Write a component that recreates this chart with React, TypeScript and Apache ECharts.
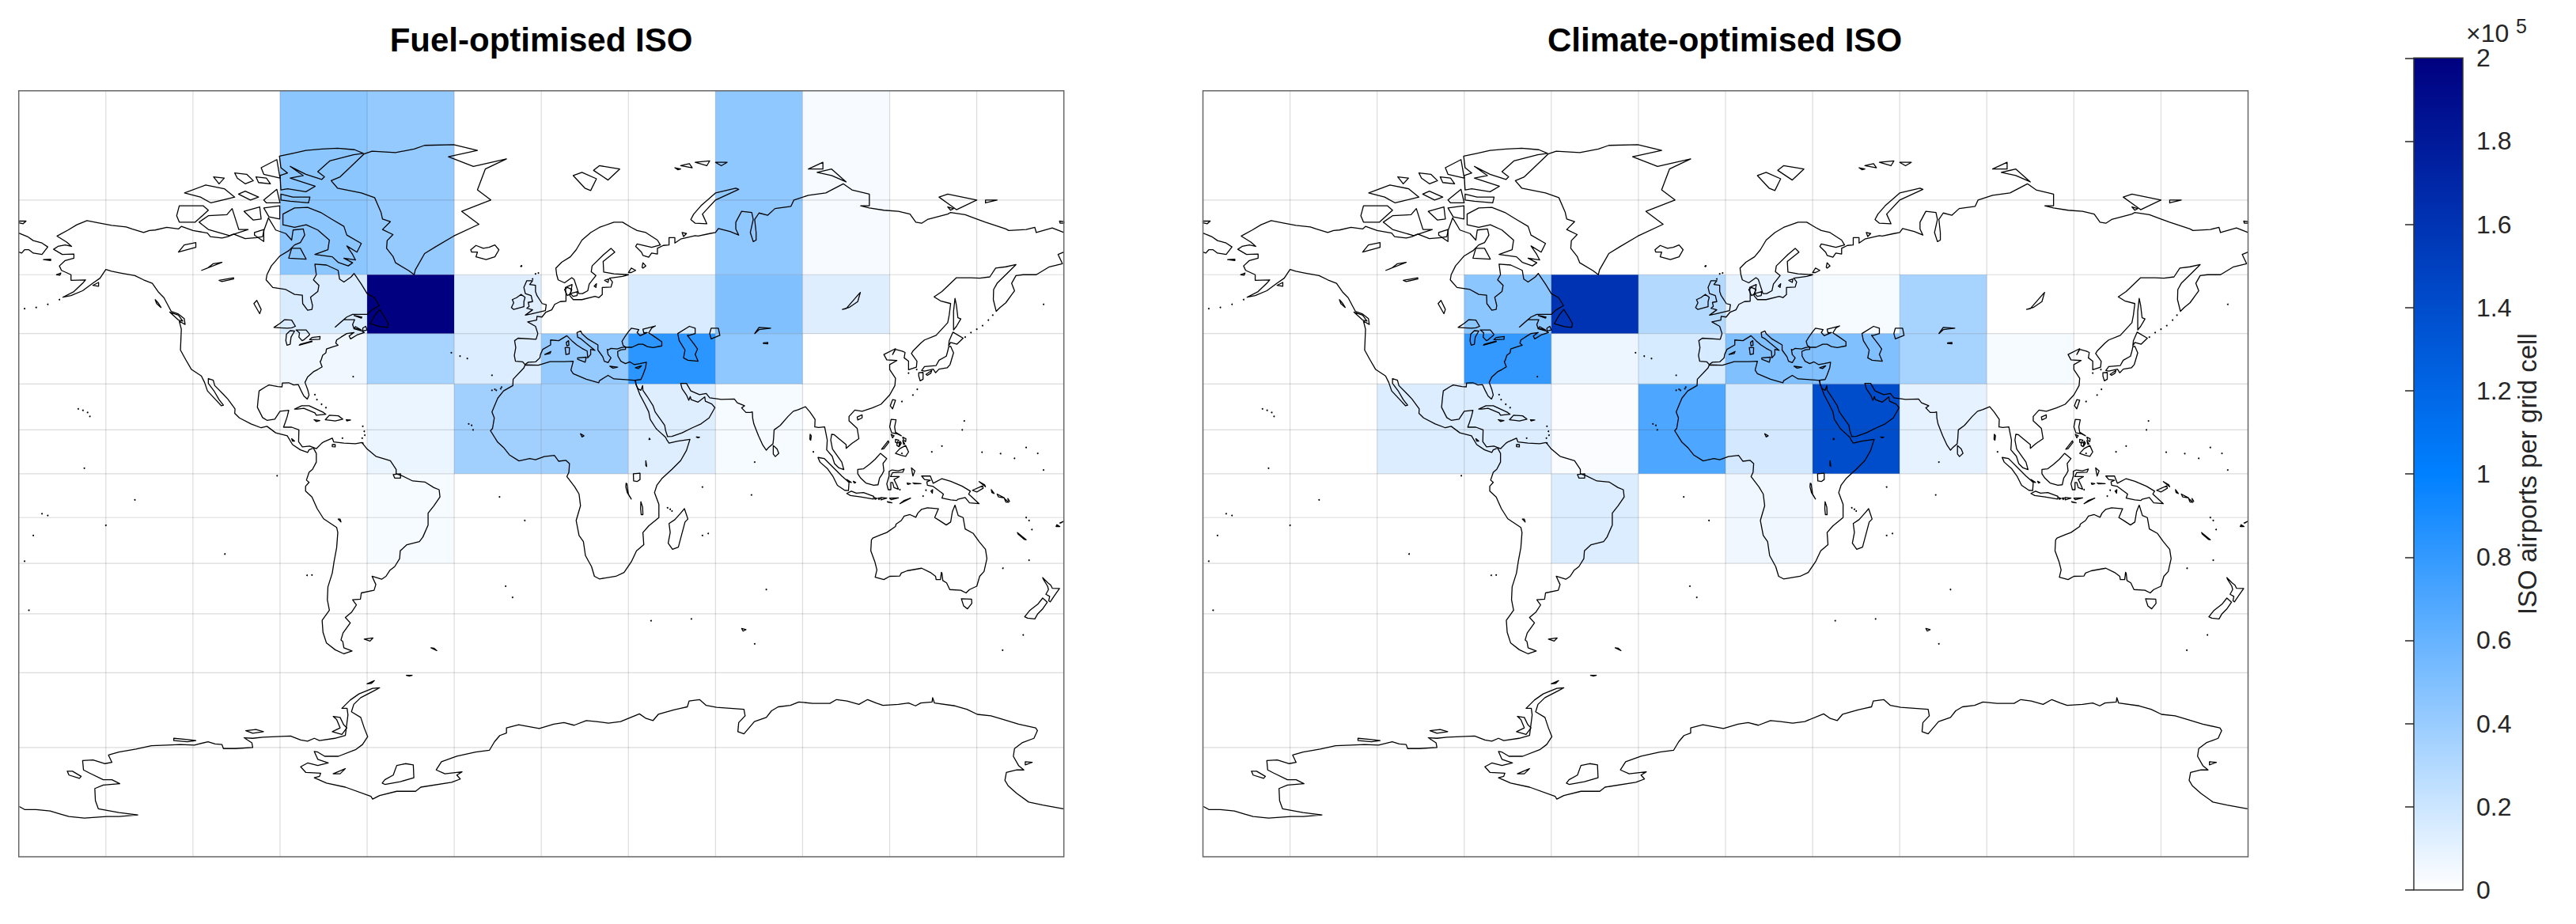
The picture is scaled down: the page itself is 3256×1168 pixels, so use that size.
import React, { useEffect, useRef } from "react";
import * as echarts from "echarts";

const FONT = '"Liberation Sans", Arial, sans-serif';
const LON_TICKS = [-180, -150, -120, -90, -60, -30, 0, 30, 60, 90, 120, 150, 180];
const LAT_TICKS = [-90, -75, -60, -45, -30, -15, 0, 15, 30, 45, 60, 75, 90];
const CELL_LAT_EDGES = [90, 60, 45, 30, 0, -30];
const COLORBAR_TICKS = [0, 0.2, 0.4, 0.6, 0.8, 1, 1.2, 1.4, 1.6, 1.8, 2];

// ISO airports per grid cell (x 10^5), one entry per 30-degree longitude column
const FUEL_60N_90N = [0, 0, 0, 0.45, 0.415, 0, 0, 0, 0.44, 0.03, 0, 0];
const FUEL_45N_60N = [0, 0, 0, 0.15, 2.0, 0.13, 0, 0.15, 0.5, 0.13, 0, 0];
const FUEL_30N_45N = [0, 0, 0, 0.06, 0.35, 0.14, 0.42, 0.83, 0.44, 0, 0, 0];
const FUEL_00N_30N = [0, 0, 0, 0, 0.08, 0.37, 0.37, 0.13, 0.035, 0, 0, 0];
const FUEL_30S_00S = [0, 0, 0, 0, 0.035, 0, 0, 0, 0, 0, 0, 0];
const FUEL = [FUEL_60N_90N, FUEL_45N_60N, FUEL_30N_45N, FUEL_00N_30N, FUEL_30S_00S];

const CLIMATE_60N_90N = [0, 0, 0, 0, 0, 0, 0, 0, 0, 0, 0, 0];
const CLIMATE_45N_60N = [0, 0, 0, 0.45, 1.6, 0.3, 0.1, 0.035, 0.35, 0, 0, 0];
const CLIMATE_30N_45N = [0, 0, 0, 0.8, 0.07, 0.16, 0.5, 0.5, 0.35, 0.035, 0, 0];
const CLIMATE_00N_30N = [0, 0, 0.14, 0.14, 0.02, 0.7, 0.17, 1.4, 0.1, 0, 0, 0];
const CLIMATE_30S_00S = [0, 0, 0, 0, 0.14, 0, 0.06, 0, 0, 0, 0, 0];
const CLIMATE = [CLIMATE_60N_90N, CLIMATE_45N_60N, CLIMATE_30N_45N, CLIMATE_00N_30N, CLIMATE_30S_00S];

// Coastlines: flat lon,lat lists
const OPEN_COAST: number[][] = [
  // Antarctica mainland
  [-179.8,-84,-178,-84.4,-174,-84.4,-169.2,-84.6,-165.6,-85,-162.7,-85.3,-157.4,-85.5,-149.7,-85.3,-145.5,-85.3,-139,-85.1,-145.5,-84.8,-152.6,-84.3,-153.6,-83.2,-153.8,-81.5,-150.9,-81,-145.2,-80.8,-147.9,-80.2,-150.9,-80.2,-155.6,-79.2,-157.7,-78.7,-158,-77.2,-154.4,-77.1,-150.3,-77.7,-147.9,-77.5,-149.1,-76.3,-145.5,-75.8,-139.6,-75.3,-134.3,-74.7,-129,-74.6,-124.3,-74.5,-119.5,-74.6,-114.8,-74,-112.4,-74.4,-110,-74.5,-109.5,-75.2,-105.4,-75.2,-99.4,-75,-99.7,-74.2,-102.4,-73.3,-99.4,-73.4,-95.9,-73.2,-91.2,-73.1,-86.4,-73,-82.9,-73.7,-80.5,-73.9,-78.2,-73.4,-76.4,-73.8,-71.1,-73.4,-67.5,-72.9,-66.6,-69,-66.9,-67.7,-68.7,-67.7,-65.8,-66,-62.8,-64.7,-58.1,-63.5,-55.7,-63.4,-58.1,-64.2,-62.2,-65.5,-64.6,-66.9,-65.4,-68.4,-62.2,-69.5,-61,-71.5,-59.8,-73.1,-61.6,-74.5,-64,-75.4,-69.9,-76.5,-74.6,-76.5,-77,-75.8,-78.2,-75.7,-77,-77,-73.4,-77.6,-77,-78,-80.5,-77.6,-82.9,-78.2,-81.1,-79.1,-76,-79.2,-76.4,-79.7,-78.2,-79.9,-74,-80.7,-67.5,-81.3,-58.7,-82.6,-58.1,-83,-55.7,-82.5,-49.8,-81.9,-43.3,-81.9,-41.5,-81.3,-30.9,-80.6,-27.9,-80.1,-29.1,-79.5,-27.3,-79,-33.2,-79.3,-36.2,-78.7,-34.4,-77.4,-29.1,-76.5,-22.6,-75.8,-17.9,-75.5,-16.1,-74,-14.3,-72.9,-12,-72.45,-12,-71.5,-7.8,-70.9,-3.7,-71.3,-0.7,-71.6,4.3,-70.8,7.8,-70.5,11.3,-71,15.5,-70.1,19,-70.3,23.1,-70.6,27.3,-70.3,33.8,-68.8,36.1,-69.7,38.5,-70.1,40.3,-68.9,45.6,-68,48,-67.7,50.3,-67.4,50.9,-66.2,54.5,-65.9,56.8,-67.1,60.4,-67.5,69.8,-67.9,70.2,-69.2,68,-70.5,67.7,-72.2,69.8,-72.6,73.4,-70.3,77.5,-69.5,79.3,-68.2,81.6,-67.4,85.8,-67.1,88.7,-66.4,93.5,-66.7,99.4,-66.7,101.7,-65.9,105.3,-66.2,109.4,-66.9,112.4,-65.9,115.3,-66.6,117.7,-67.1,123,-66.9,126.5,-66.6,128.9,-67.2,130.7,-66.6,134.6,-66.4,134.8,-65.5,135.4,-66.6,142.5,-67.2,146.6,-67.9,150.2,-68.9,154.9,-69.2,159.7,-70,164.4,-70.8,170.3,-71.5,170.9,-72,169.7,-73.4,165.6,-74.2,163,-75.2,162.6,-76.5,164.4,-78,166.2,-78.7,163.8,-78.7,160.2,-79.1,159.7,-80.3,160.8,-81.1,163.8,-82.2,167.9,-83.4,172.7,-83.8,179.8,-84.3],
  // Chukotka east of the date line
  [-180,68.9,-177,68.2,-175,67.4,-172,66.9,-170,66.1,-172,64.5,-175,64.8,-176.5,65.5,-178,65.5,-179,64.8,-180,65],
  // Eurasia from Norway over Siberia, round Asia and Europe
  [180,69,176,69.9,170.5,69,170,70,167,69.6,161,69.4,160,69.7,153,71,150,71.6,146,72.4,141,72.8,140,72.5,133,71.5,131,70.8,129,71,127,72.5,123,73,118,73.2,113,73.6,110,74,113,74,113,76,107,76.7,104,77.7,98,76.2,92,75.8,87,75,86,73.9,80.5,73.5,78,72.3,75,72.7,73.5,71.5,74,69,74,67.5,73,67.2,72,69,73,71.5,72.5,72.8,69,73,67,71,67,69.7,68,68.5,65,69.2,61,69.8,60,69,58,68.8,54,68.3,53,68.4,48,67.7,46,66.9,46,68,44,68,44,66.5,42,66.4,40,65.8,40,64.6,38,64.8,37,63.9,35,64.3,34.5,65,32.5,66.2,33,66.7,38,66,41,66.5,40,67.5,36,69,33,69.4,31,70,28,71,25,71,20,70,17,69,14,67.5,12,65.5,10,64,7,62.8,5,61.5,5.3,60,5.8,58.8,8,58.1,10.5,59.3,11.3,58.9,12.9,55.5,14.2,55.5,16,56.2,16.5,57.8,18.8,59.8,17.2,60.7,17.5,62,21.5,64.5,24,65.8,25.3,65,21.3,63,21.5,60.6,25,60.2,30,60,28,59.6,23.5,59.2,24.5,58.3,24,57.1,21,57,21,55.3,19.8,54.5,18.5,54.8,14,54,11,54,9.8,55,10.2,56,10.6,57.7,8.3,57,8.5,55.5,8.5,53.6,6.5,53.5,4.6,52.8,3.6,51.4,1.6,50.8,0.2,49.5,-1.5,49.7,-1.6,48.7,-4.7,48.2,-2,47,-1.2,45,-1.8,43.4,-8,43.7,-9.2,43,-8.8,41,-9.3,38.7,-8.9,37,-6.4,36.8,-5.6,36,-4.5,36.7,-2,36.8,-0.5,38,-0.3,39,0.5,40.5,3.2,41.8,3.2,43.2,6,43,8.8,44.4,10.5,43,12.2,41.8,14,40.8,15.8,40,16,38,17,39,17,40.5,18.5,40.2,16,41.9,13.7,43.5,12.5,44,12.3,45.3,13.6,45.7,14,45,16,43.5,19.5,41.8,19.5,40.3,21.2,38.3,21.7,37,23,36.6,24,38,23,39,22.7,40.5,23,40.3,24,40.8,26.2,40.6,27.5,41,29,41.2,28.2,41.6,27.8,42.8,28.7,44,30,45.5,31,46.5,33.6,46.1,33,45.3,34,44.4,36.5,45.3,35.3,45.2,35,46.2,39.3,47.1,38,46.5,37,45.2,38.5,44.4,41.5,42.7,41.5,41.5,38.5,41,36.5,41.3,35,42,33.5,42,31.2,41.1,29,41.1,29,40.5,27.5,40.4,26.3,39.9,26.4,38.5,27.4,37,29,36.3,30.5,36.8,32,36,34,36.3,36.2,36.7,35.9,35,35,32.8,34.3,31.4,32.3,31.2,32.6,29.9,33.3,28.5,34.3,28,34.9,29.5,35,28,36.5,26,38.5,23,39.2,21,42.5,16.5,42.8,14.8,43.5,12.7,45,12.8,48.5,14,52,15.7,55,17,57.8,19,59.8,22.4,58.7,23.6,56.5,24.5,56.3,25.9,54,24.2,51.6,25,51.3,26,50.8,24.8,50,26.5,48.5,28.5,48,30.2,50,30.2,51.5,27.8,54.5,26.6,56.8,27,58,25.6,62,25.1,66.5,25.2,67.5,24,70,23,69,22.3,70.5,20.8,72,20.8,72.7,21,72.8,19,73.2,17,74.8,13,76.3,9.8,77.5,8.1,78.2,8.9,79.8,10.3,80,12,80.2,15,82.3,16.5,85,19.5,86.8,21.2,88.5,21.7,91,22.7,92.5,21,94.3,18.5,94.2,16,95.5,15.8,97.6,16,98.5,11.5,98.3,8.2,100.2,6,101,3.5,102.5,2,104.2,1.4,103.5,4,100.3,8.5,99.7,11.5,100,13.5,100.8,13.4,102.5,12,105,10,105,8.7,107,10.4,109.4,12,108.8,15.5,106,18,106,19.5,108,21.6,110.5,21.2,114,22.3,117,23.5,120,26.5,121.8,29.5,122,31.8,120,34.5,120,36,122.5,37.2,119,37.4,118,39,122,40.7,121,39,122,40.5,124.3,40,125.3,39.6,125,38,126.5,37,126.5,34.4,129.2,35.2,129.4,37,127.5,39.3,128,40,130.7,42.3,132,43.2,136,44.5,140,48,140.5,50,141,53,137.5,53.7,135.3,54.7,138,56,143,59.3,148,59.3,151,59.2,154.5,59.5,156.5,61.5,160,61.8,163.5,62.3,160,60,157,58,155.8,56.5,155.7,54,156.7,51,158,52,160,53.2,161.8,55,163,56.2,162,58,163.5,59.8,166,60,170.5,60,175,61.8,179.5,62.5,178,64.5,180,65],
];

const CLOSED_COAST: number[][] = [
  // Americas
  [-168,65.6,-166.5,66.2,-164,66.5,-161.8,66.2,-163.5,67.1,-166.8,68.3,-163,69.5,-160,70.5,-156.5,71.3,-152,70.8,-148,70.4,-143,70.1,-141,69.7,-137,69,-135,69.4,-133,69.5,-129,70,-125,69.7,-124,70.2,-120,69.4,-115,68.9,-114,68.2,-110,67.9,-108,68.2,-106,68.7,-102,67.8,-98,68,-96,68.2,-95.5,69.5,-94,71.8,-92,70,-91.5,69.5,-88,68.8,-86,67.5,-85.5,69.5,-82,69.7,-81.5,68.5,-83,67,-85,66.5,-87,65.3,-90,64.2,-93,62,-94.5,60,-94.8,58.8,-92.5,57,-88,56.5,-85,55.3,-82.3,55.1,-82.2,53,-80.5,51.3,-79,51.5,-78.8,52.5,-79.5,54.6,-77,56,-76.6,57.5,-78.5,58.8,-77.5,60,-78,62.4,-74,62.2,-70,61,-69.5,59,-68,58.3,-65.5,59.5,-64.5,60.3,-62,57.8,-60,55.5,-57.5,54.5,-55.8,52.5,-58.5,51.3,-60,50.2,-65,50.2,-67,49.5,-69,48.2,-71,46.8,-68,48.8,-64.3,48.8,-65,47.5,-64.5,46.3,-62,45.8,-61,45.3,-63.5,44.6,-65.7,43.5,-66.2,44.3,-64.5,45.3,-67,45,-69,44,-70.5,43.2,-70.8,42.3,-70,41.7,-72,41.2,-74,40.6,-74.2,39.5,-75.3,38.8,-75.9,37.2,-76.2,36.9,-75.5,35.3,-77,34.5,-78.5,33.8,-80.5,32.2,-81.4,30.5,-80.5,28.3,-80,26.5,-80.6,25.2,-81.8,26.2,-82.8,28,-83.7,29.8,-85.3,29.7,-87,30.4,-89.2,30.3,-89.3,29.1,-90.8,29.2,-93.8,29.7,-95,29.1,-97.2,27.8,-97.5,25.5,-97.8,22.5,-96,19.1,-94.5,18.2,-91.8,18.6,-90.5,20.5,-90,21.2,-87,21.5,-87.5,19.5,-88.2,17.5,-88.8,15.9,-86,15.9,-83.5,15,-83.6,11,-82.3,9.2,-79.8,9.5,-77.5,8.6,-75.6,10.5,-74.8,11,-72,12.2,-71.5,10.9,-68,10.5,-64,10.3,-61.8,10.7,-60,8.5,-57,6,-52,4.5,-50,1.5,-50,0,-48,-0.7,-44.3,-2.5,-40,-2.9,-37,-4.8,-35.2,-5.5,-34.9,-8,-37,-11,-39,-13.5,-39,-17.5,-40.8,-21.5,-42,-23,-46.3,-24,-48.6,-26,-48.8,-28.5,-50.5,-31,-52.2,-32.2,-53.5,-34,-55,-34.9,-58.3,-34,-57,-36.5,-57.6,-38.2,-62,-39,-62.3,-40.8,-65,-41,-63.7,-42.5,-65.3,-44.5,-67.5,-46,-65.8,-47.5,-68.3,-50.2,-69,-52,-68.4,-52.4,-68,-54,-65.2,-54.8,-68,-55.5,-71,-54.5,-74,-52.8,-75.2,-50,-75.5,-46.8,-73,-44,-73.7,-41,-73.5,-37.2,-72,-33,-71.4,-29.5,-70.5,-25,-70.1,-20,-70.5,-18.3,-75,-15.4,-77.2,-12,-79,-8,-81.2,-6,-81.2,-4.3,-80,-3,-80.9,-2.2,-80,0.5,-78.8,1.5,-77.5,4,-77.5,7,-78.5,8.8,-80,8.2,-80.5,7.3,-83,8.2,-85.7,10,-87.5,13,-91.5,14,-94.5,16.2,-96.5,15.7,-100,17,-104,19,-105.6,20.5,-105.5,22,-108,25.2,-109.5,26.7,-112.5,29.5,-113,31.2,-114.7,31.7,-114.7,30.2,-112.8,27.9,-111,25,-109.5,23.2,-110.2,23,-112.2,25,-115,27.8,-116,30.5,-117.1,32.5,-120.5,34.5,-122.5,37.5,-124.3,40.3,-124,46.2,-124.7,48.4,-122.7,47.5,-123,49.1,-125,50.3,-127.5,51,-130,54.5,-131.8,55.8,-134,58,-137,58.8,-140,59.8,-145,60.4,-148,60.8,-150,61.2,-152,59.2,-154.5,58,-158,56.2,-162,55,-164.8,54.6,-161,56,-158,58,-157,58.8,-162,58.7,-162,60,-165.3,61,-166,62,-164,63.2,-161,63.7,-161,64.6,-165,64.5],
  // Africa
  [32.5,31.1,30,31.3,25,31.6,23,32.7,20,31,19.8,30.4,15.5,31.5,11,33.2,10.2,34.3,11,37,8,36.9,3,36.9,-1,35.8,-5.6,35.9,-6,35,-9.7,31.5,-9.8,29.5,-13,27.8,-15,25.5,-17,21,-16.2,19,-16.8,15.5,-17.5,14.7,-15,10.8,-13,9,-11,6.5,-7.7,4.4,-4,5.2,-2,4.8,1,5.9,4.5,6.3,6,4.3,8.5,4.6,9.7,3.5,9.5,0.5,8.8,-1,11.5,-4.5,13,-7,13.5,-11,12,-16,13,-21,14.5,-23,15.2,-27.5,17.3,-31,18.3,-34,20,-34.8,25.7,-34,28.5,-32.8,31,-29.5,32.8,-26,35.3,-24,35,-20,37,-17.8,40.5,-15,40.5,-10.5,39,-6.5,39.8,-4,41.5,-1.7,45,1.5,48,4.5,50,8,51.2,11.8,47,11.2,44,10.5,43.3,11.5,42.8,12.5,40,15,39.5,15.5,37.5,18.5,37,21,35.7,23.5,34,26.5,32.6,29.9],
  // Greenland
  [-43.8,60,-45.6,60.9,-50.2,62.7,-51.1,64.1,-53.3,65.8,-53.1,67.4,-51.1,68.6,-54.7,69.6,-52,71.1,-54.7,71.6,-55.2,72.8,-57.4,75.4,-62,76.2,-70.2,77,-72.4,78.2,-69.3,78.8,-66.5,80,-61.1,82.2,-58.3,82.6,-50.2,82.4,-43.8,82.9,-40.2,83.4,-30.2,83.5,-22,82.7,-32,81.8,-23.4,80.4,-12,81.5,-19.3,80,-22,76.7,-17.4,75,-27.4,73,-21.5,70.6,-30.2,68.3,-36.5,66.1,-40.2,64.7,-43.4,61.1],
  // Canadian Arctic
  [-80.5,73.7,-76,72.8,-72,71.5,-68,70.2,-67,68.5,-62,66.8,-63.5,65,-67,66.3,-65,64.5,-64,63.3,-68,63.7,-65,62.7,-66.5,62,-70,62.8,-72,64,-78,64.5,-73.5,65.5,-73,67.5,-77,69.5,-81,70.5,-85,70,-89,70.5,-89,72.5,-85,73.6],
  [-90.2,81.9,-85.6,82.3,-81.1,82.7,-75.6,82.9,-70.2,83,-64.3,82.8,-61.3,82.3,-64.7,82.1,-72.9,81.2,-77,79.6,-74.7,78.8,-75.6,78.4,-81.1,79.2,-86.5,80.4,-82,79,-86.5,78.6,-77.9,77.3,-81.1,76.4,-87.4,76.9,-89.7,76.7,-90,79,-87.4,79.4,-89.7,80.2],
  [-89.7,76,-85.6,75.5,-79.7,75.5,-80.2,74.5,-86.5,74.8,-89.7,75],
  [-122.9,76.2,-115.6,77.5,-109.2,76.9,-105.6,75.5,-113.8,74.5,-117.4,75.5],
  [-112.9,78.8,-109.2,78.6,-111,77.7],
  [-105.6,79.4,-101.5,79.2,-99.2,78.2,-102,77.7,-104.7,78.6],
  [-98.3,78.8,-94.7,78.6,-93.3,77.7,-97.4,77.9],
  [-96.5,80.2,-91.1,81.4,-90,78.6,-95.6,79.2],
  [-102,76.5,-97.4,75.5,-100.2,75,-104.3,76],
  [-95.6,75,-91.1,76.8,-90,74.5,-94.7,74.5],
  [-124.7,74,-116.5,74,-114.7,73.2,-119.2,71,-124.7,71,-125.6,72.2],
  [-117.9,71,-114.7,72.2,-108.3,72.4,-106.5,73.5,-104.2,69.6,-101,69.6,-107.4,68.4,-114.7,69.6],
  [-102.4,73,-97,73.8,-96.5,71.6,-99.2,71.4],
  [-95.6,73.6,-90.1,74,-90.1,71.6,-93.8,72],
  [-98.8,69,-95.6,69.6,-95.6,67.2,-98.8,68.5],
  [-87,63.7,-81,63.5,-83,65.8,-86,65.8],
  [-59,47.7,-55.5,46.9,-53,46.7,-52.7,47.7,-54,49.5,-55.7,51.5,-57.3,50],
  [-61.5,45.7,-60,46,-60.5,47,-61.5,46.5],
  [-64.5,46.5,-62,46,-64,46.9],
  [-64.5,49.9,-62,49.2,-61.8,49.5,-63.5,49.8],
  [-128,50.8,-125,50,-123.5,48.4,-125,48.7],
  [-133,54,-131.8,53,-131,52,-132.5,53],
  [-154.5,57.5,-152.5,58.2,-152.5,57.3],
  [-167,60,-165.5,60.4,-165.8,59.9],
  [-171.5,63.4,-169,63.2,-169,63.5],
  [-24.3,65.5,-22.5,66.4,-20,65.8,-18,66,-16,66.5,-14.6,65.5,-16,64,-19,63.4,-22.5,64,-22,65,-24,65],
  [11,79,15,77,17,76.6,19,78.5,14,79.5],
  [18,79.8,23,78.3,27,80,20,80.5],
  [51.5,71.5,53,70.8,57,70.7,55.5,72.5,60,75,68,76.8,67,77,60,76.2,55,74,52.5,72.5],
  [48.5,69,50,68.8,49,68.2],
  [48,80.5,51,80.8,52,80.2],[53,81,58,81.2,57,80.5],[60,81,64,81,62,80.5],[46,80.2,48,80,47,79.9],
  [95,79.5,100,79,105,78,100,80],[92,80,97,81,97,80],
  [137,75.5,143,73.3,150,75,140,76],[140,73.8,142,73.5,141,73.2],[153,75,157,75,153,74.5],
  [178.5,71.2,180,71.1,180,70.8,178.7,70.8],[-180,71.2,-177.5,71.2,-178.5,70.7,-180,70.9],
  // Europe islands
  [-5.5,50,-3.5,50.3,1.4,51.2,1.7,52.7,0.3,53,-1.5,55,-2,56,-2,57.5,-4,57.7,-3,58.6,-5,58.6,-6,57,-5.5,55.5,-3.5,55,-3,53.5,-4.5,53.3,-4.2,52.3,-5,51.8,-3,51.4],
  [-6,52.2,-6,53.5,-5.6,54.6,-7,55.3,-8.5,54.5,-10,54,-9.5,53.2,-10.3,52,-9.5,51.5,-8,51.8],
  [12.5,38,15.5,38.2,15.1,36.7,12.5,37.6],[8.2,41,9.7,41,9.6,39.2,8.5,39],[8.6,42.5,9.4,43,9.5,41.7,8.8,41.5],
  [23.6,35.5,26.3,35.2,24.7,34.9],[32.4,35,34.5,35.6,33.5,34.8],[1.2,39,3.3,39.9,3,39.3],[8,56.5,9,57,10.5,56.5,10,55.5,9,55],[10,55.5,12.5,56,12.3,55,11,54.8],[18.2,57.3,19,57.9,18.8,57],[21.8,58.7,23.2,59,23,58.2],
  // Asia lakes and seas
  [47,45,51,47,53,46.5,53,45,51,44.5,50.3,44.5,52.8,41.8,53.8,40.6,53,39,54,37,50.5,37.3,49,38,49.5,40.3,47.5,43],
  [58.5,46.5,61,46.5,61.5,44.5,58.5,43.5,58,45],[73.5,45,75,46.7,79,46.5,75,46.1],[103.7,51.5,105,51.7,109.5,55.5,109.9,55.8,109,53.5,106,52],
  [31,60.5,32.5,61,31,61.5,30,60.5],[35,61.5,36,62,35,62.7,34.7,61.7],[76.5,42.4,78,42.5,78,42.1,76.5,42.2],
  // Africa lakes
  [31.7,0,34,0.2,34,-2,33,-2.7,31.8,-2.5],[29.2,-3.3,29.5,-3.5,30,-7,31,-8.7,29.6,-6.5,29.1,-4.5],[34.3,-9.6,34.9,-11.5,35,-14,34.4,-14,34.2,-12],[36,4.5,36.3,2.5,36,2.8],[37.2,12.2,37.5,11.8,37.1,11.7],[13.5,13.7,14.7,13,14,12.6],
  // Americas lakes
  [-92.1,46.7,-90,47.8,-88.4,48.8,-86,48.7,-84.7,47,-86,46.6,-87.5,46.5,-90,46.6],
  [-87.6,41.7,-86.5,42,-86.2,44,-85,45.7,-86.5,45.8,-87.8,44.8,-88,43],
  [-84.5,46,-81,46,-79.8,44.8,-80,44.5,-81.7,43.3,-82.4,43,-83.5,44,-83.3,45.2],
  [-83.4,41.7,-79,42.7,-79,42.9,-83,42],[-79.8,43.3,-76.3,43.4,-76.2,44.2,-79,43.9],
  [-97,50.4,-99,53,-98,53.8,-96.5,51.5],[-117,61,-110,62.8,-113,62.5,-115,61.5],[-125,65,-119,66,-119,67,-123,66.5],[-111,58.7,-106,59.3,-106,59,-110,58.4],
  [-86,12,-85,11.2,-85.7,11.2],[-70,-15.5,-69,-16.5,-69.3,-15.5],[-72,10,-71,10,-71,9.2,-72,9.3],
  [-85,21.9,-82.5,23,-80,23,-75,20.8,-74.2,20.2,-77.5,19.9,-78,20.7,-81.8,22.2,-84,21.9],
  [-74.4,18.4,-73,19.9,-69.9,19.7,-68.4,18.6,-71,18,-72.5,18.2],[-78.3,18.4,-76.3,18.1,-77.5,17.8],[-67.2,18.4,-65.7,18.3,-67,18],
  [-61,-51.8,-58,-51.5,-59,-52.3],[-38,-54,-36,-54.7,-37,-54.1],[-51,-0.3,-48.5,0,-48.5,-1.5,-50.5,-1.5],
  // East Asia
  [142.5,54.3,143,52.5,143.5,49.3,144.5,49,143,47,142,46,142,48,142,51],
  [140.3,41.5,140.5,43,141.8,45.4,145.3,43.7,143.2,42,141,42.5],
  [141,41.4,142,39.5,140.8,36,139.8,35,137,34.6,135.8,33.5,135,34.6,132,34,131,34.2,132,35.4,136,35.7,137,37.3,139.5,38.5,140,40,140.3,41.2],
  [132.5,33,134.5,34.2,134.2,33.4,133,32.7],[130,33.5,131.5,33.6,131.5,31.5,130.5,31,130,32.5],
  [121,25,122,24.8,121,22,120.2,23],[108.8,19.3,110.5,20,110.5,19,109,18.3],
  [120.5,18.5,122.2,18.4,121.7,16,122,14.2,124,13,122.5,13.7,120.7,14,120,16],[122,7,123.5,8.6,125.5,9.7,126.5,7.5,125.5,6,124,6.3],
  [124.5,12.5,125.6,12,125.5,11,124.8,11.5],[122,11.8,123.1,11.5,122.5,10.6,122,10.8],[122.5,10.5,123.5,10.8,123.2,9.3,122.5,9.7],[123.5,11.2,124,10.5,123.4,9.5],[124.5,11.4,125.2,10.2,124.8,10.1],[120.5,13.5,121.5,13,121,12.3],
  [117.2,8.4,119.5,11.3,119.7,10.8,118,8.6],
  [79.9,9.7,81.2,8.5,81.8,7,80.6,5.9,79.9,6.8],[92.6,13.5,93,13,92.8,11.5,92.5,11.8],[53.4,12.6,54.5,12.5,54,12.3],
  // Maritime south-east Asia
  [109,1.5,111,1.7,113,3.2,115,5,116.8,7,119,5.2,117.7,3.5,118,1,117.5,0,116.5,-1.5,116,-3.8,114.5,-4,111.8,-3.2,110,-1.5,109,0],
  [95.3,5.6,97.5,5.2,100.5,2.2,103.5,-0.8,106,-3,105.8,-5.8,104.5,-5.7,102,-4,100.5,-1,98.5,1.8,96,4],
  [105.2,-6.8,106.8,-6,108.5,-6.7,111,-6.5,114.5,-7.8,114.4,-8.7,110,-8,106.5,-7.5],
  [119.8,0.8,120.8,1.3,123,1,125,1.6,124.5,0.5,121,0.4,120.3,-1,123.3,-1,121.5,-2,122.5,-4,123,-5.3,121.5,-4.8,121,-3,120.4,-3,120.4,-5.5,119.5,-5.5,119,-3.5,119.8,-0.8],
  [114.7,-8.2,115.6,-8.5,115,-8.8],[116,-8.4,116.7,-8.3,116.3,-8.9],[117,-8.2,119,-8.4,117,-9],[120,-8.4,123,-8.3,120.5,-8.9],[123.5,-10.3,127.2,-8.4,125,-9.2],[119.2,-9.6,120.8,-10,119.5,-9.8],
  [127.5,2,128.7,1,128,-0.8,127.7,0.8],[128,-3.2,130.8,-3.4,128.5,-3.5],[126,-3.2,127.2,-3.4,126.2,-3.7],[105.2,-2,106.8,-3,105.8,-2.8],[107.5,-2.6,108.3,-3,107.8,-3.2],[134.2,-6,134.8,-5.5,134.7,-6.7],
  [131,-0.8,134,-0.8,135,-3.3,138,-1.7,141,-2.6,145,-4.3,147.8,-6,147.2,-7,150.8,-10.3,147.5,-10,146,-8.2,143.5,-8.8,143,-9.2,141,-9,138,-8.4,138.5,-7,135,-4.4,133,-4,132.8,-2.8,134,-2.3,132,-2],
  [148.5,-5.7,152,-4.2,152.2,-5,150,-6.3],[150.8,-2.7,153,-4.5,152.7,-3.8],[155,-5.5,156,-6.8,155.2,-6.5],[157,-7,159.5,-8.3,157.5,-8],[159.5,-8.5,161,-9.8,160,-9.7],[160.7,-8.5,161.3,-9.5,160.8,-9],
  // Oceania
  [113.7,-22.5,114.2,-21.8,117,-20.7,119,-20,122,-18,122.2,-17.2,124,-16,125,-14.5,127,-14,129,-14.9,129.7,-13.5,131,-12.2,133,-11.7,136.8,-12,135.5,-15,137,-15.9,139.5,-17.5,141,-16.5,141.6,-13,142.5,-10.8,143.6,-14.3,145.3,-15,146,-18.8,148.8,-20.3,150.8,-23,153,-25.5,153.5,-28.5,152.5,-32.5,151,-34,150,-37,147.5,-38,146.3,-39,144.5,-38.2,140.7,-38,139.6,-36,138.3,-35.3,138,-33,137.8,-32.8,137.5,-35,136,-35,135.8,-34,134,-32.8,131,-31.5,126,-32.3,124,-33,123.5,-33.9,120,-34,118,-35,115,-34.3,115.6,-32,114.9,-29.5,113.5,-26],
  [144.7,-40.7,148.2,-40.8,148.3,-42,146.8,-43.6,145.5,-42.8],
  [172.7,-34.4,174.5,-36,175.5,-36.7,176,-37.6,178.5,-37.7,177,-39.5,175.3,-41.6,174.8,-41.3,175.1,-40,173.8,-39.4,174.7,-38,174.4,-37,173,-35],
  [172.7,-40.5,174.3,-41.7,172.8,-43.5,171,-45,170,-46.4,167.5,-46.2,166.5,-45.8,168.3,-44,171,-42.3],
  [164,-20,167,-22.4,166.4,-22.3,164.2,-20.5],[177.3,-18,178.6,-18,177.6,-17.4],[178.6,-16.8,180,-16.2,179,-16.8],
  [49.3,-12,50.5,-15.5,49.5,-16.5,47.2,-24.8,45.2,-25.5,43.7,-23.5,44.4,-20,44,-17,46,-15.7,48,-13.5],
  // Antarctic islands
  [-71.7,-69.3,-69.3,-69.5,-68.1,-70.9,-67,-71.5,-68.7,-72.7,-72,-72.2,-69.3,-71.5,-70.5,-69.9],
  [-101.8,-72,-98.3,-71.8,-95.7,-72.2,-99.4,-72.5],[-126.6,-73.4,-122.5,-73.6,-119,-73.8,-121.9,-74,-126.6,-73.8],
  [-54.8,-80.7,-53.9,-80.2,-51,-79.5,-49.8,-78,-46.8,-77.7,-44.1,-77.9,-43.9,-79.9,-48.6,-80.5,-53.9,-80.9],
  [-71.7,-79.3,-67.5,-78.5,-69.3,-79.3],[-163.3,-78.9,-161.5,-78.9,-158.5,-79.7,-159.1,-80,-162.7,-79.5],[166.7,-77.4,169.1,-77.5,166.7,-77.9],
  [-60,-62.5,-57.5,-61.8,-58.5,-62.4],[-46.5,-60.6,-44.5,-60.6,-45.5,-60.8],[69,-49,70.5,-49.3,69.5,-49.7],
];

// Tiny islands, one lon,lat pair each
const ISLETS = [-155.5,19.5,-156.3,20.8,-157.9,21.5,-159.5,22,-91,-0.7,-109,-27,-79,-33.6,-80.7,-33.7,-16,28.3,-15.5,28,-14,28.5,-17,28,-13.7,29,-17,32.7,-25.5,37.8,-28,38.5,-31,39.5,-24,16.5,-23.5,15,-25,17,-64.8,32.3,-5.7,-16,-14.4,-8,-12.3,-37,-9.9,-40.3,57.5,-20.3,55.5,-21,55.5,-4.6,43.5,-11.7,44.4,-12.2,45,-12.8,72.4,-7.3,73.5,4,93.7,7.5,73.5,-53,51.7,-46.4,37.8,-46.9,77.5,-38,158.9,-54.6,166,-50.7,-176.5,-44,-178,-29.3,168,-29,159,-31.5,167,-15,168,-16,169,-19,-172,-13.7,-175,-21,145,15,145.7,18,128,26.5,124.2,24.4,129.5,28.3,146,44,148,45.3,150,46.2,152,47.2,154,48.7,155.5,50,-166,54,-170,52.8,-174,52,-178,51.7,173,52.8,-78,26.6,-77.3,25,-75.7,23.5,-74.2,22.4,-61.5,16.2,-61,14.5,-61.5,10.5,-60.8,13.2,-61.7,12.2,171,7,167,9,134.5,7.5,138,9.5,151.8,7.4,158.2,6.9,163,5.3,173,1.3,-157.4,1.9,-150,-17.6,-140,-9,-6.8,62,-7,61.9,-2,60.2,-1,60.4,-3,59,126.5,33.4,129.3,34.5,123.5,-5.5,131.5,-7.7,132.5,-5.7,124.2,7,-170,-14.3,-68.5,12.2];

const milY = (lat: number) => 1.25 * Math.log(Math.tan(Math.PI / 4 + (0.4 * lat * Math.PI) / 180));
const Y_MAX = milY(90);

const colorOf = (v: number) => {
  const mix = (a: number[], b: number[], t: number) => a.map((c, i) => Math.round(c + (b[i] - c) * t));
  const rgb = v <= 1 ? mix([255, 255, 255], [0, 128, 255], v) : mix([0, 128, 255], [0, 0, 128], v - 1);
  return `rgb(${rgb[0]},${rgb[1]},${rgb[2]})`;
};

const PANEL_TOP = 114.7;
const PANEL_W = 1321;
const PANEL_H = 968.2;

const mapAxes = (i: number) => [
  { gridIndex: i, type: "value", min: -180, max: 180, show: false },
  { gridIndex: i, type: "value", min: -Y_MAX, max: Y_MAX, show: false },
];

const panelSeries = (matrix: number[][], ax: number) => {
  const idx = { xAxisIndex: ax, yAxisIndex: ax, coordinateSystem: "cartesian2d", silent: true, animation: false };
  const cells: number[][] = [];
  matrix.forEach((row, r) =>
    row.forEach((v, c) => {
      if (v > 0) cells.push([LON_TICKS[c], LON_TICKS[c + 1], CELL_LAT_EDGES[r + 1], CELL_LAT_EDGES[r], v]);
    })
  );
  const lines = [
    ...LON_TICKS.slice(1, -1).map((l) => [l, -90, l, 90]),
    ...LAT_TICKS.slice(1, -1).map((l) => [-180, l, 180, l]),
  ];
  const toPts = (flat: number[], api: any) => {
    const pts: number[][] = [];
    for (let i = 0; i < flat.length; i += 2) pts.push(api.coord([flat[i], milY(flat[i + 1])]));
    return pts;
  };
  const coast = [...OPEN_COAST.map((f) => ({ f, closed: false })), ...CLOSED_COAST.map((f) => ({ f, closed: true }))];
  const islets: number[][] = [];
  for (let i = 0; i < ISLETS.length; i += 2) islets.push([ISLETS[i], ISLETS[i + 1]]);
  return [
    {
      ...idx, type: "custom", z: 2, data: cells, encode: { x: [0, 1], y: [2, 3] },
      renderItem: (_: any, api: any) => {
        const a = api.coord([api.value(0), milY(api.value(3))]);
        const b = api.coord([api.value(1), milY(api.value(2))]);
        return { type: "rect", shape: { x: a[0], y: a[1], width: b[0] - a[0], height: b[1] - a[1] }, style: { fill: colorOf(api.value(4)) } };
      },
    },
    {
      ...idx, type: "custom", z: 3, data: lines.map((_, i) => [i]), encode: { x: [], y: [] },
      renderItem: (p: any, api: any) => {
        const l = lines[p.dataIndex];
        const a = api.coord([l[0], milY(l[1])]);
        const b = api.coord([l[2], milY(l[3])]);
        return { type: "line", shape: { x1: a[0], y1: a[1], x2: b[0], y2: b[1] }, style: { stroke: "rgba(60,60,60,0.18)", lineWidth: 1.2 } };
      },
    },
    {
      ...idx, type: "custom", z: 4, data: coast.map((_, i) => [i]), encode: { x: [], y: [] },
      renderItem: (p: any, api: any) => {
        const c = coast[p.dataIndex];
        const points = toPts(c.f, api);
        return { type: c.closed ? "polygon" : "polyline", shape: { points }, style: { fill: "none", stroke: "#000", lineWidth: 1.3, lineJoin: "round" } };
      },
    },
    {
      ...idx, type: "custom", z: 4, data: islets.map((_, i) => [i]), encode: { x: [], y: [] },
      renderItem: (p: any, api: any) => {
        const q = islets[p.dataIndex];
        const a = api.coord([q[0], milY(q[1])]);
        return { type: "circle", shape: { cx: a[0], cy: a[1], r: 1 }, style: { fill: "#000" } };
      },
    },
    {
      ...idx, type: "custom", z: 5, data: [[0]], encode: { x: [], y: [] },
      renderItem: (_: any, api: any) => {
        const a = api.coord([-180, Y_MAX]);
        const b = api.coord([180, -Y_MAX]);
        return { type: "rect", shape: { x: a[0], y: a[1], width: b[0] - a[0], height: b[1] - a[1] }, style: { fill: "none", stroke: "#666", lineWidth: 1.5 } };
      },
    },
  ];
};

export default function App() {
  const ref = useRef<HTMLDivElement>(null);
  useEffect(() => {
    document.body.style.margin = "0";
    const chart = echarts.init(ref.current!, undefined, { renderer: "svg" });
    const titleStyle = { fontFamily: FONT, fontWeight: "bold", fontSize: 42, color: "#000" };
    chart.setOption({
      animation: false,
      backgroundColor: "#fff",
      title: [
        { text: "Fuel-optimised ISO", left: 679, top: 24, textAlign: "center", textStyle: titleStyle },
        { text: "Climate-optimised ISO", left: 2175, top: 24, textAlign: "center", textStyle: titleStyle },
      ],
      grid: [
        { left: 23.7, top: PANEL_TOP, width: PANEL_W, height: PANEL_H },
        { left: 1520.5, top: PANEL_TOP, width: PANEL_W, height: PANEL_H },
        { left: 3051, top: 73.3, width: 62, height: 1051.7 },
      ],
      xAxis: [mapAxes(0)[0], mapAxes(1)[0], { gridIndex: 2, type: "value", min: 0, max: 1, show: false }],
      yAxis: [
        mapAxes(0)[1],
        mapAxes(1)[1],
        {
          gridIndex: 2, type: "value", position: "right", min: 0, max: 2, interval: 0.2, z: 10,
          splitLine: { show: false }, axisLine: { show: false },
          axisTick: { show: true, inside: true, length: 11, lineStyle: { color: "#262626", width: 1.5 } },
          axisLabel: {
            show: true, margin: 17, fontFamily: FONT, fontSize: 32, color: "#262626",
            customValues: COLORBAR_TICKS,
            formatter: (v: number) => String(+v.toFixed(1)),
          },
          name: "ISO airports per grid cell", nameLocation: "middle", nameRotate: 90, nameGap: 52,
          nameTextStyle: { fontFamily: FONT, fontSize: 33, color: "#262626" },
        },
      ],
      series: [
        ...panelSeries(FUEL, 0),
        ...panelSeries(CLIMATE, 1),
        {
          type: "custom", xAxisIndex: 2, yAxisIndex: 2, coordinateSystem: "cartesian2d", silent: true, z: 1,
          data: [[0, 0, 1, 2]], encode: { x: [0, 2], y: [1, 3] },
          renderItem: (_: any, api: any) => {
            const a = api.coord([0, 2]);
            const b = api.coord([1, 0]);
            return {
              type: "rect", shape: { x: a[0], y: a[1], width: b[0] - a[0], height: b[1] - a[1] },
              style: {
                fill: new echarts.graphic.LinearGradient(0, 0, 0, 1, [
                  { offset: 0, color: colorOf(2) },
                  { offset: 0.5, color: colorOf(1) },
                  { offset: 1, color: colorOf(0) },
                ]),
                stroke: "#333", lineWidth: 1.5,
              },
            };
          },
        },
      ],
      graphic: [
        { type: "text", x: 3117, y: 26, style: { text: "×10", fontFamily: FONT, fontSize: 32, fill: "#262626" } },
        { type: "text", x: 3180, y: 20, style: { text: "5", fontFamily: FONT, fontSize: 25, fill: "#262626" } },
      ],
    });
    return () => chart.dispose();
  }, []);
  return <div ref={ref} style={{ position: "absolute", left: 0, top: 0, width: 3256, height: 1168 }} />;
}
